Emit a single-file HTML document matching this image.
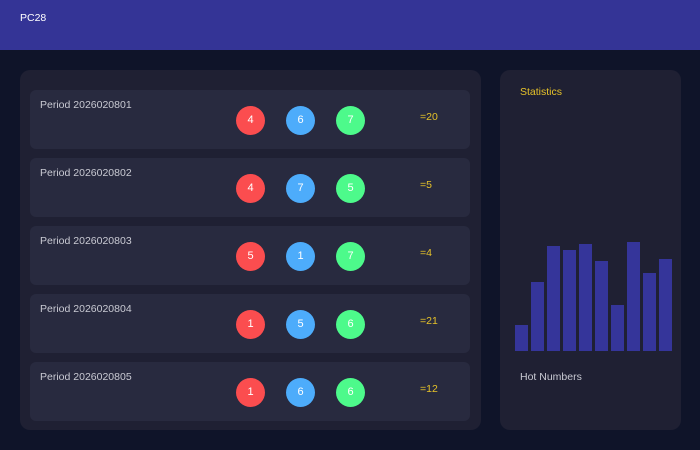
<!DOCTYPE html>
<html><head><meta charset="utf-8"><style>
*{margin:0;padding:0;box-sizing:border-box}
body{width:700px;height:450px;background:#0f1429;font-family:"Liberation Sans",sans-serif;position:relative;overflow:hidden}
.hdr{position:absolute;left:0;top:0;width:700px;height:50px;background:#343496}
.hdr span{position:absolute;left:20px;top:12px;font-size:10.5px;color:#fff}
.panel{position:absolute;left:20px;top:70px;width:461px;height:360px;background:#1f2033;border-radius:10px}
.row{position:absolute;left:30px;width:440px;height:59px;background:#282a3f;border-radius:6px}
.per{position:absolute;left:10px;top:9px;font-size:10.5px;color:#c9cad3}
.ball{position:absolute;top:16px;width:29px;height:29px;border-radius:50%;color:#fff;font-size:11px;text-align:center;line-height:28px}
.r{background:#fb4d4f;left:206px}.b{background:#4dacfb;left:256px}.g{background:#4dfa8b;left:306px}
.sum{position:absolute;left:390px;top:21px;font-size:10.5px;color:#e6c229}
.side{position:absolute;left:500px;top:70px;width:181px;height:360px;background:#1f2033;border-radius:10px}
.st{position:absolute;left:520px;top:86px;font-size:10.5px;color:#e6c229}
.hot{position:absolute;left:520px;top:371px;font-size:10.5px;color:#c9cad3}
.bar{position:absolute;width:13px;background:#35359a;bottom:99px}
</style></head><body>
<div class="hdr"><span>PC28</span></div>
<div class="panel"></div>
<div class="row" style="top:90px"><div class="per">Period 2026020801</div><div class="ball r">4</div><div class="ball b">6</div><div class="ball g">7</div><div class="sum">=20</div></div>
<div class="row" style="top:158px"><div class="per">Period 2026020802</div><div class="ball r">4</div><div class="ball b">7</div><div class="ball g">5</div><div class="sum">=5</div></div>
<div class="row" style="top:226px"><div class="per">Period 2026020803</div><div class="ball r">5</div><div class="ball b">1</div><div class="ball g">7</div><div class="sum">=4</div></div>
<div class="row" style="top:294px"><div class="per">Period 2026020804</div><div class="ball r">1</div><div class="ball b">5</div><div class="ball g">6</div><div class="sum">=21</div></div>
<div class="row" style="top:362px"><div class="per">Period 2026020805</div><div class="ball r">1</div><div class="ball b">6</div><div class="ball g">6</div><div class="sum">=12</div></div>
<div class="side"></div>
<div class="st">Statistics</div>
<div class="bar" style="left:515px;height:26px"></div>
<div class="bar" style="left:531px;height:69px"></div>
<div class="bar" style="left:547px;height:105px"></div>
<div class="bar" style="left:563px;height:101px"></div>
<div class="bar" style="left:579px;height:107px"></div>
<div class="bar" style="left:595px;height:90px"></div>
<div class="bar" style="left:611px;height:46px"></div>
<div class="bar" style="left:627px;height:109px"></div>
<div class="bar" style="left:643px;height:78px"></div>
<div class="bar" style="left:659px;height:92px"></div>
<div class="hot">Hot Numbers</div>
</body></html>
